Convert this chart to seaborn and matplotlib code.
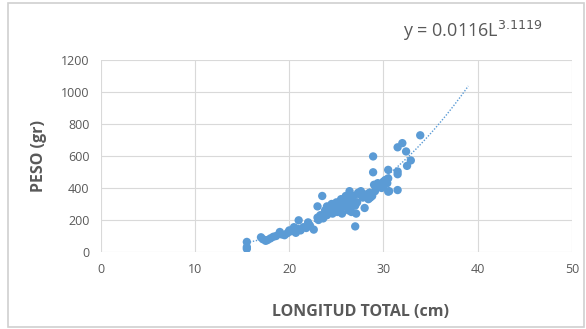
import numpy as np
import pandas as pd
import matplotlib
matplotlib.use("Agg")
import matplotlib.pyplot as plt
import seaborn as sns
from matplotlib.patches import Rectangle

# longitud total (cm) y peso (gr)
longitud = [
    15.5, 15.5, 15.5, 17.0, 17.2, 17.5, 17.7, 18.0, 18.3, 18.6, 19.0, 19.2, 19.5, 19.8,
    20.0, 20.2, 20.4, 20.5, 20.7, 20.9, 21.0, 21.2, 21.5, 21.8, 22.0, 22.2, 22.6,
    23.0, 23.0, 23.1, 23.3, 23.5, 23.6, 23.8, 24.0, 24.0, 24.2, 24.3, 24.5, 24.6, 24.8,
    25.0, 25.0, 25.1, 25.3, 25.4, 25.5, 25.6, 25.8, 25.9, 26.0, 26.1, 26.2, 26.3, 26.4,
    26.5, 26.6, 26.7, 26.8, 27.0, 27.0, 27.1, 27.2,
    27.3, 27.5, 27.6, 27.8, 28.0, 28.0, 28.2, 28.4, 28.5, 28.6, 28.8, 28.9, 28.9, 29.0,
    29.1, 29.2, 29.4, 29.5, 29.6, 29.8, 30.0, 30.0, 30.2, 30.4, 30.5, 30.6, 30.5, 30.5,
    31.5, 32.0, 32.4, 31.5, 31.5, 31.5, 32.5, 32.9, 33.9,
]
peso = [
    63, 31, 20, 92, 80, 70, 75, 85, 95, 100, 125, 110, 105, 118,
    135, 130, 140, 155, 120, 145, 198, 135, 155, 150, 185, 165, 140,
    215, 285, 200, 230, 350, 210, 260, 285, 230, 270, 250, 300, 240, 280,
    310, 260, 250, 300, 270, 330, 240, 320, 290, 350, 280, 310, 260, 380,
    300, 250, 330, 350, 160, 290, 240, 310,
    370, 360, 380, 340, 275, 360, 350, 330, 370, 340, 350, 597, 498, 420,
    380, 400, 430, 410, 420, 400, 440, 410, 450, 430, 460, 380, 513, 377,
    654, 680, 628, 503, 486, 387, 538, 572, 729,
]

# ecuacion potencial mostrada en el grafico
coef_a = 0.0116
coef_b = 3.1119
trend_range = (15.5, 39.0)

df = pd.DataFrame({"longitud": longitud, "peso": peso})
lt = np.linspace(*trend_range, 100)
trend = pd.DataFrame({"longitud": lt, "peso": coef_a * lt ** coef_b})

sns.set_style("whitegrid")
plt.rcParams["font.family"] = ["Open Sans", "DejaVu Sans"]

gray = "#595959"
blue = "#5b9bd5"

fig = plt.figure(figsize=(5.86, 3.29), dpi=100)
ax = fig.add_axes([0.172, 0.234, 0.804, 0.584])

sns.scatterplot(data=df, x="longitud", y="peso", ax=ax, color=blue,
                s=36, edgecolor="none", zorder=3)
sns.lineplot(data=trend, x="longitud", y="peso", ax=ax, color=blue,
             linestyle=(0, (1, 1.2)), linewidth=1.0, zorder=2)

ax.set_xlim(0, 50)
ax.set_ylim(0, 1200)
ax.set_xticks(range(0, 51, 10))
ax.set_yticks(range(0, 1201, 200))
ax.grid(True, color="#d9d9d9", linewidth=0.8)
for s in ax.spines.values():
    s.set_visible(False)
ax.tick_params(colors=gray, labelsize=9, length=0, pad=8)

ax.set_xlabel("LONGITUD TOTAL (cm)", color=gray, fontsize=11.5, fontweight="bold", va="center")
ax.xaxis.set_label_coords(0.552, -0.31)
ax.set_ylabel("PESO (gr)", color=gray, fontsize=11.5, fontweight="bold", labelpad=10)

fig.text(0.688, 0.905, r"y = 0.0116L$^{3.1119}$", color=gray, fontsize=13,
         ha="left", va="center")

fig.patches.append(Rectangle((0.014, 0.006), 0.983, 0.984, transform=fig.transFigure,
                             fill=False, edgecolor="#d0d0d0", linewidth=1.2))

fig.savefig("out.png", dpi=100)
